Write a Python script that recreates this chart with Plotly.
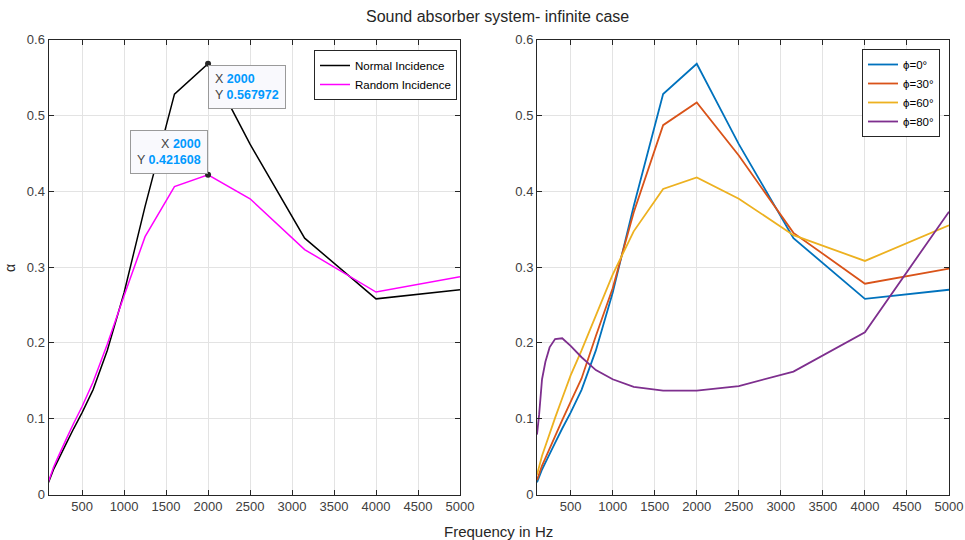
import plotly.graph_objects as go

freq = [100, 125, 160, 200, 250, 315, 400, 500, 630, 800, 1000, 1250, 1600, 2000, 2500, 3150, 4000, 5000]

normal = [0.016, 0.024, 0.033, 0.042, 0.054, 0.068, 0.087, 0.108, 0.138, 0.19, 0.266, 0.38, 0.528, 0.567972, 0.462, 0.338, 0.258, 0.27]
random_inc = [0.017, 0.026, 0.036, 0.046, 0.059, 0.074, 0.094, 0.116, 0.148, 0.198, 0.262, 0.34, 0.406, 0.421608, 0.39, 0.323, 0.267, 0.287]

phi0 = normal
phi30 = [0.019, 0.028, 0.038, 0.048, 0.061, 0.077, 0.098, 0.122, 0.153, 0.209, 0.272, 0.372, 0.487, 0.517, 0.447, 0.345, 0.278, 0.298]
phi60 = [0.026, 0.038, 0.051, 0.064, 0.081, 0.101, 0.127, 0.157, 0.19, 0.235, 0.29, 0.347, 0.403, 0.418, 0.39, 0.342, 0.308, 0.355]
phi80 = [0.079, 0.105, 0.152, 0.175, 0.194, 0.205, 0.206, 0.196, 0.181, 0.164, 0.152, 0.142, 0.137, 0.137, 0.143, 0.162, 0.214, 0.373]

left_names = ["Normal Incidence", "Random Incidence"]
right_names = ["ϕ=0°", "ϕ=30°", "ϕ=60°", "ϕ=80°"]
x_ticks = [500, 1000, 1500, 2000, 2500, 3000, 3500, 4000, 4500, 5000]
y_ticks = [0, 0.1, 0.2, 0.3, 0.4, 0.5, 0.6]

tip_x = 2000
tip_y = [0.567972, 0.421608]

FONT = "Liberation Sans, Arial, Helvetica, sans-serif"
AX = "#262626"
TXT = "#404040"

fig = go.Figure()

fig.add_trace(go.Scatter(x=freq, y=normal, mode="lines", name=left_names[0],
                         line=dict(color="black", width=1.5), xaxis="x", yaxis="y", legend="legend"))
fig.add_trace(go.Scatter(x=freq, y=random_inc, mode="lines", name=left_names[1],
                         line=dict(color="#FF00FF", width=1.5), xaxis="x", yaxis="y", legend="legend"))
fig.add_trace(go.Scatter(x=[tip_x, tip_x], y=tip_y, mode="markers", showlegend=False,
                         marker=dict(color="#262626", size=6), xaxis="x", yaxis="y"))

colors = ["#0072BD", "#D95319", "#EDB120", "#7E2F8E"]
series = [phi0, phi30, phi60, phi80]
for name, ys, c in zip(right_names, series, colors):
    fig.add_trace(go.Scatter(x=freq, y=ys, mode="lines", name=name,
                             line=dict(color=c, width=1.8), xaxis="x2", yaxis="y2", legend="legend2"))

W, H = 965, 540
xd1 = [48.5 / W, 460 / W]
xd2 = [537 / W, 949 / W]
yd = [(H - 494.5) / H, (H - 39.5) / H]

def xax(domain, anchor):
    return dict(domain=domain, anchor=anchor, range=[100, 5000], tickvals=x_ticks,
                ticks="inside", ticklen=5, tickcolor=AX, showline=True, linecolor=AX,
                linewidth=1, mirror="ticks", showgrid=True, gridcolor="#e3e3e3",
                zeroline=False, tickfont=dict(size=13, color=TXT, family=FONT))

def yax(anchor):
    return dict(domain=yd, anchor=anchor, range=[0, 0.6], tickvals=y_ticks,
                ticks="inside", ticklen=5, tickcolor=AX, showline=True, linecolor=AX,
                linewidth=1, mirror="ticks", showgrid=True, gridcolor="#e3e3e3",
                zeroline=False, tickfont=dict(size=13, color=TXT, family=FONT))

legend_common = dict(bgcolor="white", bordercolor=AX, borderwidth=1,
                     font=dict(size=11.5, color="black", family=FONT),
                     xanchor="right", yanchor="top", tracegroupgap=0, itemwidth=30)

fig.update_layout(
    width=W, height=H,
    margin=dict(l=0, r=0, t=0, b=0, autoexpand=False),
    paper_bgcolor="white", plot_bgcolor="white",
    font=dict(family=FONT, color=TXT),
    xaxis=xax(xd1, "y"), yaxis=yax("x"),
    xaxis2=xax(xd2, "y2"), yaxis2=yax("x2"),
    legend=dict(x=457 / W, y=(H - 50) / H, **legend_common),
    legend2=dict(x=940 / W, y=(H - 49) / H, **legend_common),
    showlegend=True,
)

fig.add_annotation(text="Sound absorber system- infinite case", xref="paper", yref="paper",
                   x=498 / W, y=(H - 17) / H, xanchor="center", yanchor="middle", showarrow=False,
                   font=dict(size=16, color=AX, family=FONT))
fig.add_annotation(text="Frequency in Hz", xref="paper", yref="paper",
                   x=498.5 / W, y=(H - 531.5) / H, xanchor="center", yanchor="middle", showarrow=False,
                   font=dict(size=15, color=AX, family=FONT))
fig.add_annotation(text="α", xref="paper", yref="paper", textangle=-90,
                   x=10 / W, y=(H - 268) / H, xanchor="center", yanchor="middle", showarrow=False,
                   font=dict(size=14, color=AX, family=FONT))

BLUE = "#0099FF"
fig.add_annotation(
    text=f"X <b><span style='color:{BLUE}'>{tip_x}</span></b><br>Y <b><span style='color:{BLUE}'>{tip_y[0]}</span></b>",
    xref="x", yref="y", x=tip_x, y=tip_y[0], xanchor="left", yanchor="top",
    xshift=0, yshift=-1, showarrow=False, align="left",
    bgcolor="#F9F9FD", bordercolor="#9a9a9a", borderwidth=1, borderpad=6,
    font=dict(size=12.5, color="#444444", family=FONT))
fig.add_annotation(
    text=f"X <b><span style='color:{BLUE}'>{tip_x}</span></b><br>Y <b><span style='color:{BLUE}'>{tip_y[1]}</span></b>",
    xref="x", yref="y", x=tip_x, y=tip_y[1], xanchor="right", yanchor="bottom",
    xshift=0, yshift=1, showarrow=False, align="right",
    bgcolor="#F9F9FD", bordercolor="#9a9a9a", borderwidth=1, borderpad=6,
    font=dict(size=12.5, color="#444444", family=FONT))

fig.write_html("out.html", post_script="document.body.style.margin='0';document.body.style.overflow='hidden';")
